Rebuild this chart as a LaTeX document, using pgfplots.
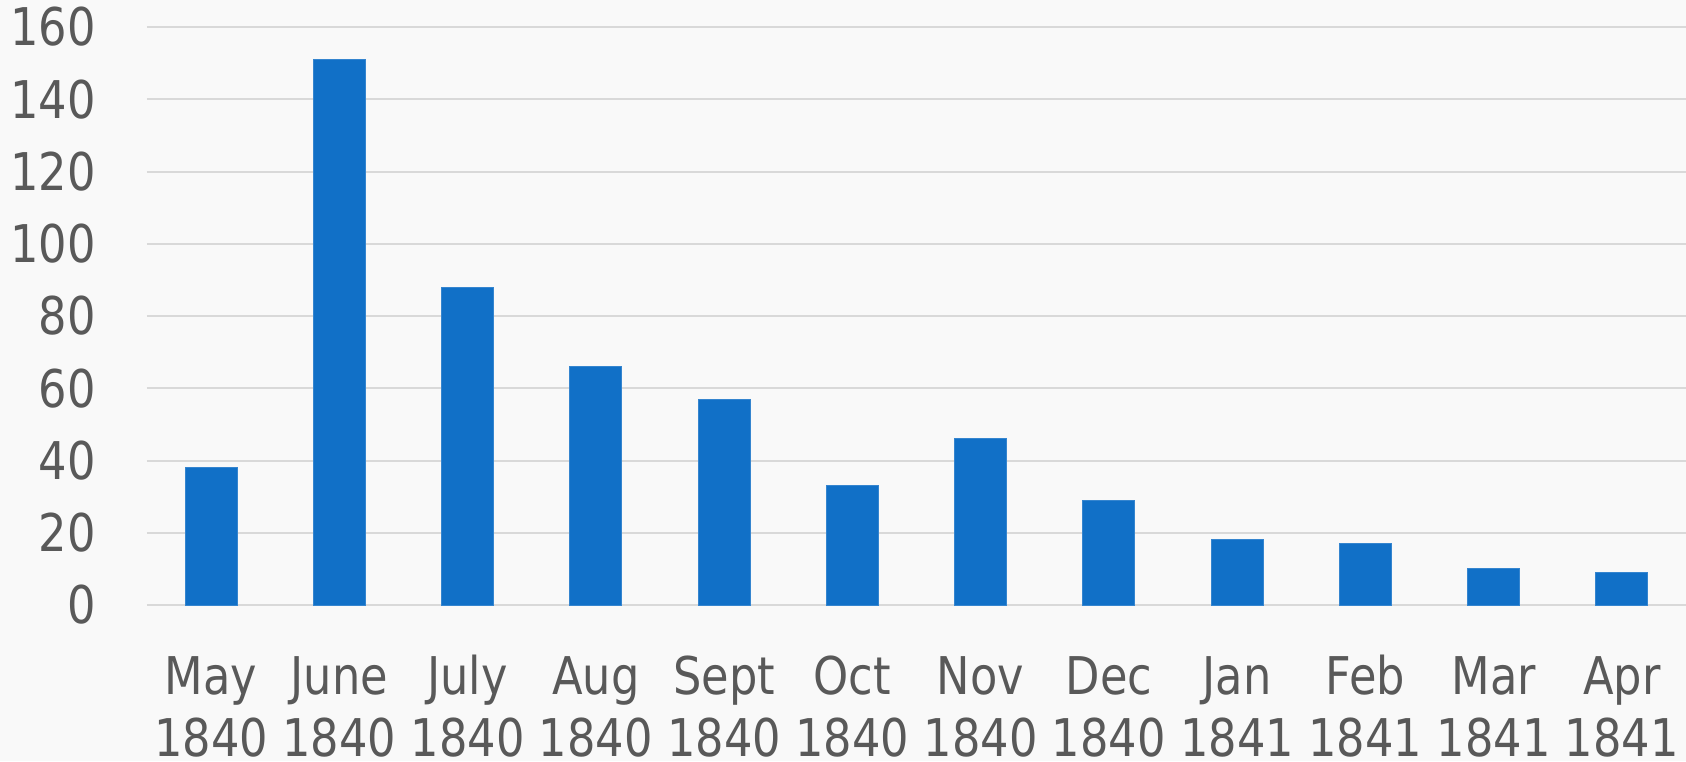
\documentclass[border=0pt]{standalone}
\usepackage{fontspec}
\setmainfont{DejaVu Sans}[FakeStretch=0.86]
\usepackage{pgfplots}
\pgfplotsset{compat=1.18}
\definecolor{barc}{RGB}{17,112,199}
\definecolor{gridc}{RGB}{217,217,217}
\definecolor{txt}{RGB}{89,89,89}
\definecolor{bgc}{RGB}{249,249,249}
\begin{document}
\begin{tikzpicture}
\fill[bgc] (-73.5pt,-78pt) rectangle (769.5pt,302.5pt);
\begin{axis}[
  scale only axis, width=769.5pt, height=289pt,
  xmin=-0.5, xmax=11.5, ymin=0, ymax=160,
  axis line style={draw=none},
  major tick length=0pt,
  ytick={0,20,...,160},
  xtick={0,...,11},
  xticklabels={{\rule{0pt}{20pt}May\\1840},{\rule{0pt}{20pt}June\\1840},{\rule{0pt}{20pt}July\\1840},{\rule{0pt}{20pt}Aug\\1840},{\rule{0pt}{20pt}Sept\\1840},{\rule{0pt}{20pt}Oct\\1840},{\rule{0pt}{20pt}Nov\\1840},{\rule{0pt}{20pt}Dec\\1840},{\rule{0pt}{20pt}Jan\\1841},{\rule{0pt}{20pt}Feb\\1841},{\rule{0pt}{20pt}Mar\\1841},{\rule{0pt}{20pt}Apr\\1841}},
  ymajorgrids,
  grid style={gridc, line width=1pt},
  /pgf/number format/assume math mode=true,
  tick label style={font=\fontsize{26}{31}\selectfont, text=txt},
  yticklabel style={anchor=east, inner sep=0pt, xshift=-25.5pt},
  xticklabel style={anchor=north, inner sep=0pt, align=center, yshift=-24.6pt},
  clip=false,
]
\addplot[ybar, bar width=26pt, fill=barc, draw=barc!85!white, line width=0.5pt]
  coordinates {(0,38) (1,151) (2,88) (3,66) (4,57) (5,33) (6,46) (7,29) (8,18) (9,17) (10,10) (11,9)};
\end{axis}
\pgfresetboundingbox
\useasboundingbox (-73.5pt,-78pt) rectangle (769.5pt,302.5pt);
\end{tikzpicture}
\end{document}
